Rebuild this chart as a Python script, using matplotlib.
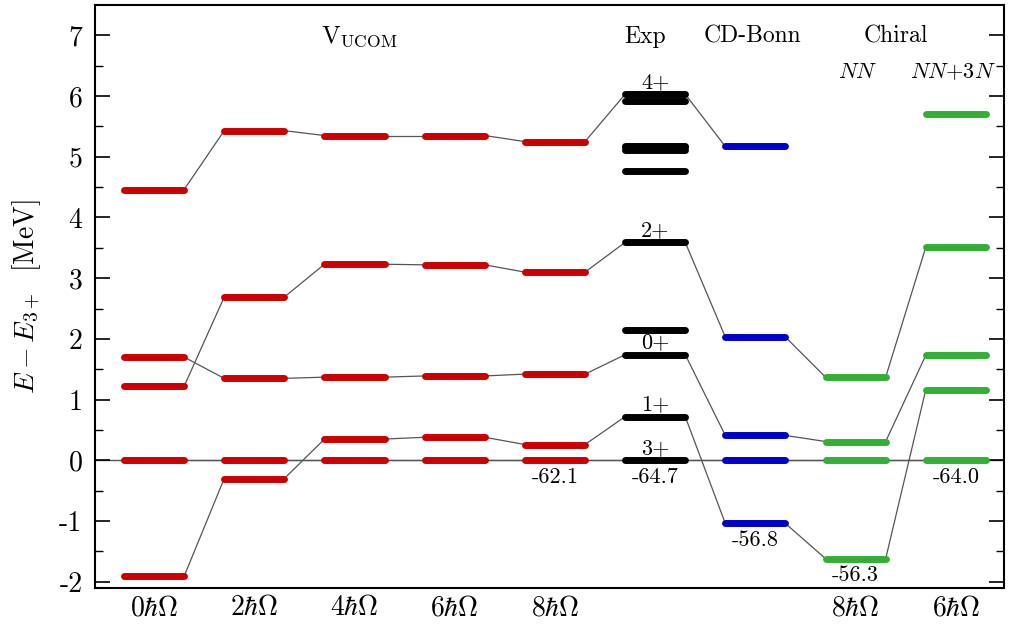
import numpy as np
import matplotlib
matplotlib.use('Agg')
import matplotlib.pyplot as plt

plt.rcParams['font.family'] = 'cmr10'
plt.rcParams['mathtext.fontset'] = 'cm'
plt.rcParams['axes.unicode_minus'] = False

nan = np.nan

# columns: VUCOM 0..8 hbar Omega, Exp, CD-Bonn, Chiral NN (8), Chiral NN+3N (6)
columns = ['0', '2', '4', '6', '8', 'Exp', 'CD-Bonn', 'NN', 'NN+3N']
col_colors = ['#cc0000'] * 5 + ['black', '#0000cc', '#33b033', '#33b033']

# energies relative to the 3+ state, one list per state (across columns)
e_3p = [0, 0, 0, 0, 0, 0, 0, 0, 0]
e_1p = [-1.91, -0.30, 0.35, 0.38, 0.26, 0.72, -1.04, -1.62, 1.16]
e_0p = [1.70, 1.35, 1.37, 1.39, 1.42, 1.74, 0.41, 0.31, 1.73]
e_2p = [1.22, 2.69, 3.23, 3.22, 3.10, 3.59, 2.03, 1.37, 3.51]
e_4p = [4.46, 5.43, 5.35, 5.35, 5.25, 6.03, 5.17, nan, 5.71]
states = [e_3p, e_1p, e_0p, e_2p, e_4p]

# further experimental levels
exp_extra = [2.15, 4.77, 5.11, 5.16, 5.18, 5.92]
exp_labels = {'3+': 0, '1+': 0.72, '0+': 1.74, '2+': 3.59, '4+': 6.03}

# ground state energies (MeV)
ground = [None, None, None, None, '-62.1', '-64.7', '-56.8', '-56.3', '-64.0']

xtick_pos = [0, 1, 2, 3, 4, 7, 8]
xtick_lab = [r'$0\hbar\Omega$', r'$2\hbar\Omega$', r'$4\hbar\Omega$', r'$6\hbar\Omega$',
             r'$8\hbar\Omega$', r'$8\hbar\Omega$', r'$6\hbar\Omega$']

hw = 0.3
fig = plt.figure(figsize=(10.1, 6.26), dpi=100)
ax = fig.add_axes([0.094, 0.061, 0.900, 0.931])

ax.axhline(0, color='#555555', lw=1.0, zorder=1)

# connecting lines
for st in states:
    for i in range(len(st) - 1):
        if np.isnan(st[i]) or np.isnan(st[i + 1]):
            continue
        ax.plot([i + hw, i + 1 - hw], [st[i], st[i + 1]], color='#555555', lw=0.9, zorder=1)

# levels
for st in states:
    for i, e in enumerate(st):
        if np.isnan(e):
            continue
        ax.plot([i - hw, i + hw], [e, e], color=col_colors[i], lw=5,
                solid_capstyle='round', zorder=2)
for e in exp_extra:
    ax.plot([5 - hw, 5 + hw], [e, e], color='black', lw=5, solid_capstyle='round', zorder=2)

for lab, e in exp_labels.items():
    ax.text(5, e + 0.04, lab, ha='center', va='bottom', fontsize=16)

for i, g in enumerate(ground):
    if g is None:
        continue
    low = np.nanmin([st[i] for st in states])
    ax.text(i, low - 0.12, g, ha='center', va='top', fontsize=16)

# headers
ax.text(2.05, 6.98, r'$\mathrm{V}_{\mathrm{UCOM}}$', ha='center', va='center', fontsize=18)
ax.text(4.9, 6.98, 'Exp', ha='center', va='center', fontsize=17)
ax.text(5.97, 6.98, 'CD-Bonn', ha='center', va='center', fontsize=17)
ax.text(7.4, 6.98, 'Chiral', ha='center', va='center', fontsize=17)
ax.text(7.02, 6.4, r'$NN$', ha='center', va='center', fontsize=16)
ax.text(7.97, 6.4, r'$NN{+}3N$', ha='center', va='center', fontsize=16)

ax.set_xlim(-0.59, 8.48)
ax.set_ylim(-2.1, 7.5)
ax.set_xticks(xtick_pos)
ax.set_xticklabels(xtick_lab, fontsize=20)
ax.tick_params(axis='x', length=0, pad=5)

yt = list(range(-2, 8))
ax.set_yticks(yt)
ax.set_yticklabels([str(v) for v in yt], fontsize=20)
ax.set_yticks(np.arange(-1.5, 7.5, 1.0), minor=True)
ax.tick_params(axis='y', which='major', direction='in', length=11, width=1.2,
               left=True, right=True, pad=9)
ax.tick_params(axis='y', which='minor', direction='in', length=6, width=1.0,
               left=True, right=True)
for s in ax.spines.values():
    s.set_linewidth(1.5)

ax.set_ylabel(r'$E - E_{3+}\ \ [\mathrm{MeV}]$', fontsize=20, labelpad=12)

fig.savefig('out.png', dpi=100)
